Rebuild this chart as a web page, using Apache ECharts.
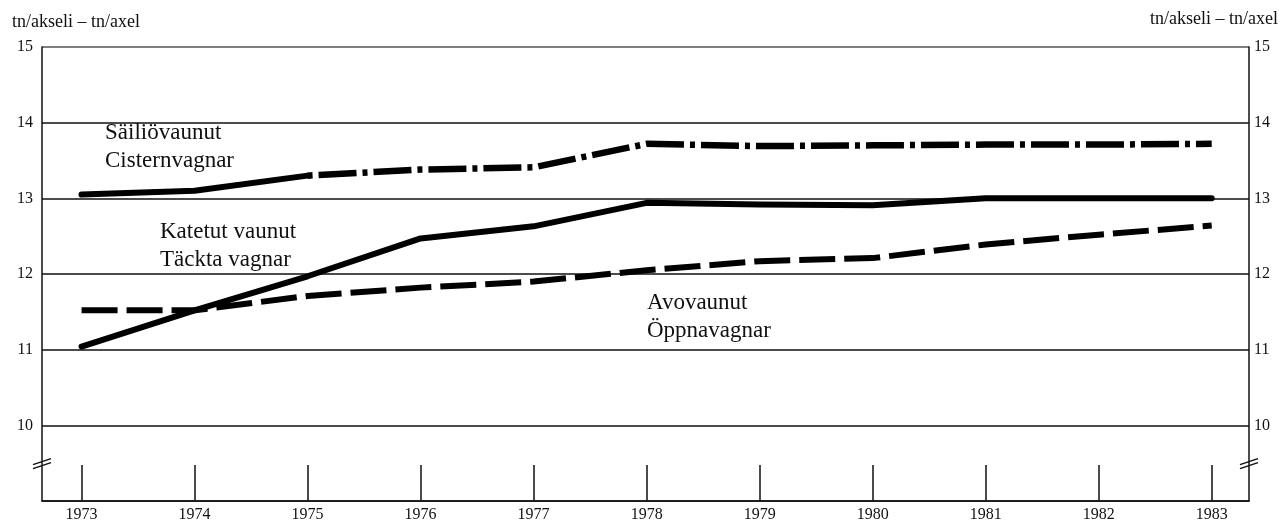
<!DOCTYPE html>
<html>
<head>
<meta charset="utf-8">
<script src="https://cdn.jsdelivr.net/npm/echarts@6/dist/echarts.min.js"></script>
<style>
html,body{margin:0;padding:0;background:#fff;}
#chart{width:1281px;height:523px;}
</style>
</head>
<body>
<div id="chart"></div>
<script>
// data (tn/akseli)
var years = [1973, 1974, 1975, 1976, 1977, 1978, 1979, 1980, 1981, 1982, 1983];
var katetut = [11.04, 11.52, 11.97, 12.47, 12.63, 12.94, 12.92, 12.91, 13.0, 13.0, 13.0];
var sailio = [13.05, 13.10, 13.30, 13.38, 13.41, 13.72, 13.69, 13.70, 13.71, 13.71, 13.72];
var avovaunut = [11.52, 11.52, 11.71, 11.82, 11.90, 12.05, 12.17, 12.21, 12.39, 12.52, 12.64];
var yTicks = [10, 11, 12, 13, 14, 15];
var axisTitle = 'tn/akseli – tn/axel';
var seriesNames = ['Säiliövaunut\nCisternvagnar', 'Katetut vaunut\nTäckta vagnar', 'Avovaunut\nÖppnavagnar'];

var serif = '"Liberation Serif", "DejaVu Serif", serif';

function pairs(vals, from, to) {
  var out = [];
  for (var i = from; i <= to; i++) out.push([years[i], vals[i]]);
  return out;
}

var myChart = echarts.init(document.getElementById('chart'));

var option = {
  backgroundColor: '#fff',
  animation: false,
  grid: {left: 42, right: 32, top: 47, bottom: 22, containLabel: false, outerBoundsMode: 'none'},
  xAxis: {
    type: 'value',
    min: 1972.65,
    max: 1983.33,
    splitLine: {show: false},
    axisLine: {show: true, lineStyle: {color: '#111', width: 1.5}},
    axisTick: {show: true, inside: true, length: 36, customValues: years, lineStyle: {color: '#111', width: 1.5}},
    axisLabel: {
      customValues: years,
      margin: 6,
      color: '#111',
      fontFamily: serif,
      fontSize: 16,
      formatter: function (v) { return String(v); }
    }
  },
  yAxis: [
    {
      type: 'value',
      min: 9,
      max: 15,
      interval: 1,
      axisLine: {show: true, lineStyle: {color: '#111', width: 1.5}},
      axisTick: {show: false},
      axisLabel: {customValues: yTicks, margin: 9, color: '#111', fontFamily: serif, fontSize: 16},
      splitLine: {
        show: true,
        lineStyle: {color: ['#111', '#111', '#111', '#111', '#111', '#111', '#555'], width: 1.5}
      }
    },
    {
      type: 'value',
      position: 'right',
      min: 9,
      max: 15,
      interval: 1,
      axisLine: {show: true, lineStyle: {color: '#111', width: 1.5}},
      axisTick: {show: false},
      axisLabel: {customValues: yTicks, margin: 5, color: '#111', fontFamily: serif, fontSize: 16},
      splitLine: {show: false}
    }
  ],
  series: [
    {
      name: 'katetut',
      type: 'line',
      data: pairs(katetut, 0, years.length - 1),
      showSymbol: false,
      lineStyle: {color: '#000', width: 6, join: 'round', cap: 'round'}
    },
    {
      name: 'avovaunut',
      type: 'line',
      data: pairs(avovaunut, 0, years.length - 1),
      showSymbol: false,
      lineStyle: {color: '#000', width: 6, type: [36, 9], join: 'round'}
    },
    {
      // first part of the cistern line is drawn solid in the original
      name: 'sailio-a',
      type: 'line',
      data: pairs(sailio, 0, 2),
      showSymbol: false,
      lineStyle: {color: '#000', width: 6, join: 'round', cap: 'round'}
    },
    {
      name: 'sailio-b',
      type: 'line',
      data: pairs(sailio, 2, years.length - 1),
      showSymbol: false,
      lineStyle: {color: '#000', width: 6.5, type: [5, 6, 38, 6], join: 'round'}
    }
  ]
};
myChart.setOption(option);

// annotations, axis titles and the axis-break marks
function breakMark(px) {
  return [0, 4].map(function (dy) {
    return {
      type: 'line',
      shape: {x1: px[0] - 9, y1: px[1] + 3 + dy, x2: px[0] + 9, y2: px[1] - 3 + dy},
      style: {stroke: '#111', lineWidth: 1.5}
    };
  });
}
var pL = myChart.convertToPixel({gridIndex: 0}, [1972.65, 9.52]);
var pR = myChart.convertToPixel({gridIndex: 0}, [1983.33, 9.52]);

var txt = {fill: '#111', font: '23px ' + serif, lineHeight: 28, textVerticalAlign: 'top'};
myChart.setOption({
  graphic: [
    {type: 'text', left: 12, top: 13, style: {text: axisTitle, fill: '#111', font: '18px ' + serif}},
    {type: 'text', right: 3, top: 10, style: {text: axisTitle, fill: '#111', font: '18px ' + serif}},
    {type: 'text', x: 105, y: 119, style: Object.assign({text: seriesNames[0]}, txt)},
    {type: 'text', x: 160, y: 218, style: Object.assign({text: seriesNames[1]}, txt)},
    {type: 'text', x: 647, y: 289, style: Object.assign({text: seriesNames[2]}, txt)}
  ].concat(breakMark(pL), breakMark(pR))
});
</script>
</body>
</html>
